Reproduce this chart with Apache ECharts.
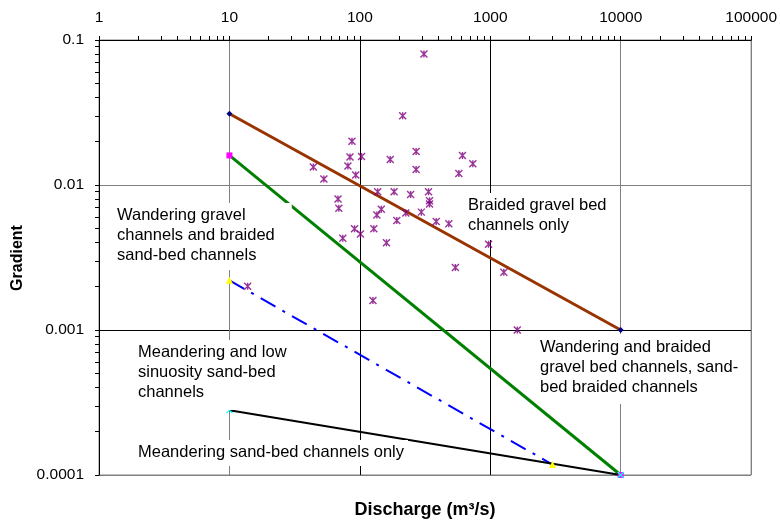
<!DOCTYPE html>
<html>
<head>
<meta charset="utf-8">
<script src="https://cdn.jsdelivr.net/npm/echarts@6/dist/echarts.min.js"></script>
<style>html,body{margin:0;padding:0;background:#fff}#c{width:780px;height:521px}</style>
</head>
<body>
<div id="c"></div>
<script>
// ---- data ----
const xMin = 1, xMax = 100000;
const yMin = 0.0001, yMax = 0.1;

const obsDischarge = [310,213,87,84,103,171,270,270,81,44,53,93,612,735,574,137,183,245,336,342,342,68,69,146,135,225,296,385,481,192,91,101,128,74,160,126,970,540,1270,1610,13.8];
const obsGradient  = [0.08,0.030,0.020,0.0156,0.0157,0.015,0.017,0.0128,0.0135,0.0133,0.011,0.0117,0.016,0.014,0.012,0.009,0.009,0.0086,0.009,0.0078,0.0074,0.008,0.0069,0.0068,0.0062,0.0064,0.0065,0.0056,0.0054,0.0057,0.005,0.0046,0.005,0.0043,0.004,0.0016,0.0039,0.0027,0.0025,0.001,0.002];

const braidedQ = [10, 10000],  braidedS = [0.031, 0.001];
const wanderQ  = [10, 10000],  wanderS  = [0.016, 0.0001];
const lowSinQ  = [10, 3000],   lowSinS  = [0.0022, 0.000118];
const meanderQ = [10, 10000],  meanderS = [0.00028, 0.0001];

const labelTexts = {
  wanderGravel: 'Wandering gravel\nchannels and braided\nsand-bed channels',
  lowSin: 'Meandering and low\nsinuosity sand-bed\nchannels',
  meanderOnly: 'Meandering sand-bed channels only',
  braidedOnly: 'Braided gravel bed\nchannels only',
  wanderBraided: 'Wandering and braided\ngravel bed channels, sand-\nbed braided channels'
};
const xTitle = 'Discharge (m\u00B3/s)';
const yTitle = 'Gradient';

// ---- helpers ----
const zip = (a, b) => a.map((v, i) => [v, b[i]]);
const FONT = '"Liberation Sans", Arial, sans-serif';

const chart = echarts.init(document.getElementById('c'), null, {renderer: 'canvas'});

function boundary(name, q, s, color, width, type, symbol, symColor, symSize) {
  return {
    name, type: 'line', data: zip(q, s),
    lineStyle: {color, width, type},
    symbol, symbolSize: symSize, showSymbol: true,
    itemStyle: symbol.indexOf('path://') === 0
      ? {color: 'rgba(0,0,0,0)', borderColor: symColor, borderWidth: 1.2}
      : {color: symColor, borderColor: symColor, borderWidth: 0},
    emphasis: {disabled: true}, silent: true, z: 3
  };
}

function label(text, x, y, pad) {
  return {
    type: 'text', x, y, z: 100,
    style: {
      text, fill: '#000', font: '16.5px ' + FONT, lineHeight: 20,
      align: 'left', verticalAlign: 'top',
      backgroundColor: '#fff', padding: pad
    }
  };
}

chart.setOption({
  animation: false,
  backgroundColor: '#fff',
  grid: {left: 99, right: 28, top: 40, bottom: 46, show: true, borderColor: '#808080', borderWidth: 1, backgroundColor: 'transparent', z: -1},
  xAxis: {
    type: 'log', logBase: 10, min: xMin, max: xMax, position: 'top', z: 1,
    axisLine: {show: true, lineStyle: {color: '#000', width: 1}},
    axisTick: {show: true, inside: false, length: 4, lineStyle: {color: '#000', width: 1}},
    minorTick: {show: true, splitNumber: 9, length: 4, lineStyle: {color: '#000', width: 1}},
    axisLabel: {fontFamily: FONT, fontSize: 15.5, color: '#000', margin: 14, formatter: v => String(v)},
    splitLine: {show: true, lineStyle: {color: ['#000', '#808080', '#000', '#000', '#808080', '#808080'], width: 1}}
  },
  yAxis: {
    type: 'log', logBase: 10, min: yMin, max: yMax, position: 'left', z: 1,
    axisLine: {show: true, lineStyle: {color: '#000', width: 1}},
    axisTick: {show: true, inside: false, length: 4, lineStyle: {color: '#000', width: 1}},
    minorTick: {show: true, splitNumber: 9, length: 4, lineStyle: {color: '#000', width: 1}},
    axisLabel: {fontFamily: FONT, fontSize: 15.5, color: '#000', margin: 15, formatter: v => String(+(+v).toPrecision(1))},
    splitLine: {show: true, lineStyle: {color: ['#808080', '#000', '#808080', '#000'], width: 1}}
  },
  series: [
    boundary('Braided', braidedQ, braidedS, '#993300', 3, 'solid', 'diamond', '#000080', 6),
    boundary('Wandering', wanderQ, wanderS, '#008000', 3, 'solid', 'rect', '#ff00ff', 6),
    boundary('LowSin', lowSinQ, lowSinS, '#0000ff', 2, [17, 8, 3, 8], 'triangle', '#ffff00', 7),
    boundary('Meander', meanderQ, meanderS, '#000000', 2, 'solid', 'path://M0,0L6,6M6,0L0,6', '#00ffff', 6),
    {
      name: 'Observed', type: 'scatter', data: zip(obsDischarge, obsGradient),
      symbol: 'path://M0,0L8,8M8,0L0,8M4,0L4,8', symbolSize: 7,
      itemStyle: {color: 'rgba(0,0,0,0)', borderColor: '#800080', borderWidth: 1.4},
      emphasis: {disabled: true}, silent: true, z: 4
    }
  ],
  graphic: [
    label(labelTexts.wanderGravel, 115, 203, [2, 17, 5, 2]),
    label(labelTexts.lowSin, 136, 340, [2, 4, 8, 2]),
    label(labelTexts.meanderOnly, 136, 440, [2, 4, 4, 2]),
    label(labelTexts.braidedOnly, 466, 193, [2, 4, 5, 2]),
    label(labelTexts.wanderBraided, 538, 334, [3, 4, 7, 2]),
    {type: 'text', x: 425, y: 510, z: 100, style: {text: xTitle, fill: '#000', font: 'bold 18px ' + FONT, align: 'center', verticalAlign: 'middle'}},
    {type: 'text', x: 18, y: 258, rotation: Math.PI / 2, z: 100, style: {text: yTitle, fill: '#000', font: 'bold 16px ' + FONT, align: 'center', verticalAlign: 'middle'}}
  ]
});
</script>
</body>
</html>
